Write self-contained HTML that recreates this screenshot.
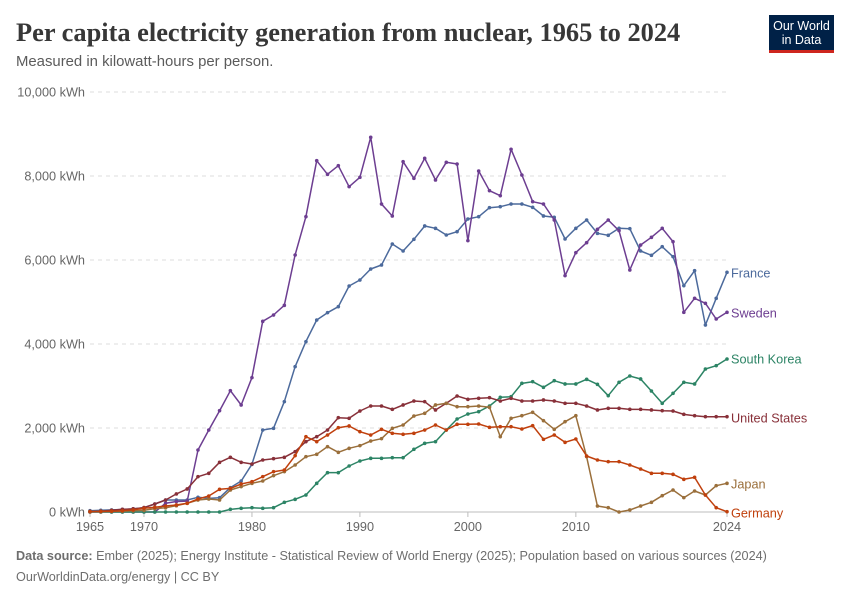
<!DOCTYPE html>
<html><head><meta charset="utf-8">
<style>
body{margin:0;background:#fff;font-family:"Liberation Sans",sans-serif;}
#wrap{position:relative;width:850px;height:600px;overflow:hidden;}
svg text{font-family:"Liberation Sans",sans-serif;}
</style></head>
<body>
<div id="wrap">
<svg id="chart" width="850" height="600" viewBox="0 0 850 600">
<text x="16" y="41" font-size="26.4" font-weight="bold" fill="#373737" style="font-family:'Liberation Serif',serif">Per capita electricity generation from nuclear, 1965 to 2024</text>
<text x="16" y="66" font-size="14.9" fill="#5b5b5b">Measured in kilowatt-hours per person.</text>
<g>
<rect x="769" y="15" width="65" height="35" fill="#002147"/>
<rect x="769" y="50" width="65" height="3" fill="#ce261e"/>
<text x="801.5" y="30" font-size="12.5" fill="#fff" text-anchor="middle">Our World</text>
<text x="801.5" y="44" font-size="12.5" fill="#fff" text-anchor="middle">in Data</text>
</g>
<g id="grid"></g>
<g id="xaxis"></g>
<g id="series"></g>
<g id="labels"></g>
<text x="16" y="560" font-size="12.65" fill="#6e6e6e"><tspan font-weight="bold">Data source:</tspan> Ember (2025); Energy Institute - Statistical Review of World Energy (2025); Population based on various sources (2024)</text>
<text x="16" y="581" font-size="12.65" fill="#6e6e6e">OurWorldinData.org/energy | CC BY</text>
</svg>
</div>
<script>
const years = [];
for (let y = 1965; y <= 2024; y++) years.push(y);
const yTicks = [0, 2000, 4000, 6000, 8000, 10000];
const yTickLabels = ["0 kWh","2,000 kWh","4,000 kWh","6,000 kWh","8,000 kWh","10,000 kWh"];
const xTicks = [1965, 1970, 1980, 1990, 2000, 2010, 2024];
const seriesNames = ["France","Sweden","South Korea","United States","Japan","Germany"];
const seriesColors = ["#4c6a9c","#6d3e91","#2c8465","#883039","#9a6f3b","#c0400d"];
const franceVals = [32,40,50,60,75,103,190,286,286,286,349,325,340,580,738,1135,1952,1992,2627,3460,4056,4571,4746,4889,5381,5524,5786,5881,6381,6214,6492,6810,6754,6595,6675,6976,7032,7246,7270,7333,7333,7254,7048,7016,6500,6754,6952,6635,6587,6754,6746,6214,6111,6317,6079,5389,5746,4452,5087,5706];
const swedenVals = [0,0,0,0,0,0,0,210,250,260,1476,1952,2413,2889,2548,3198,4540,4690,4921,6119,7032,8365,8040,8246,7746,7968,8921,7333,7048,8341,7944,8421,7905,8325,8286,6460,8119,7651,7532,8635,8024,7389,7333,6952,5627,6175,6413,6730,6952,6698,5762,6357,6540,6754,6437,4754,5087,4968,4595,4754];
const koreaVals = [0,0,0,0,0,0,0,0,0,0,0,0,0,63,87,103,87,103,230,302,405,683,937,937,1095,1214,1278,1278,1294,1294,1492,1635,1675,1952,2214,2333,2389,2524,2730,2746,3063,3103,2968,3127,3048,3048,3159,3040,2770,3087,3238,3167,2881,2587,2825,3087,3048,3405,3484,3643];
const usVals = [10,20,40,65,75,105,190,286,430,548,841,921,1183,1302,1183,1143,1238,1270,1302,1437,1675,1794,1952,2246,2230,2405,2524,2524,2444,2548,2643,2627,2429,2587,2762,2683,2706,2722,2643,2706,2643,2643,2667,2643,2587,2587,2524,2429,2468,2468,2444,2444,2429,2413,2405,2325,2294,2270,2270,2270];
const japanVals = [5,10,15,20,30,40,80,100,150,206,286,310,286,524,603,683,738,865,960,1119,1317,1373,1556,1421,1516,1579,1690,1746,1992,2071,2286,2349,2548,2587,2508,2508,2524,2492,1794,2230,2294,2373,2175,1968,2151,2294,1317,143,103,0,48,143,230,389,524,341,500,405,627,683];
const germanyVals = [10,15,20,30,50,87,111,143,167,206,310,381,540,563,667,722,841,960,1000,1341,1794,1675,1833,2008,2048,1913,1833,1968,1873,1849,1873,1952,2071,1952,2087,2087,2095,2016,2032,2032,1976,2056,1730,1833,1659,1738,1333,1238,1198,1198,1119,1024,921,921,897,778,825,405,103,8];
const allVals = [franceVals, swedenVals, koreaVals, usVals, japanVals, germanyVals];
const labelY = [273, 313, 359, 418, 484, 513];

const X0 = 90, X1 = 727, Y0 = 512, Y1 = 92;
function xScale(yr){ return X0 + (yr - 1965) / (2024 - 1965) * (X1 - X0); }
function yScale(v){ return Y0 - v / 10000 * (Y0 - Y1); }
const NS = "http://www.w3.org/2000/svg";
function mk(tag, attrs, parent){ const e = document.createElementNS(NS, tag); for (const k in attrs) e.setAttribute(k, attrs[k]); parent.appendChild(e); return e; }

const grid = document.getElementById('grid');
yTicks.forEach((t, i) => {
  const y = yScale(t);
  if (t === 0) {
    const l = mk('line', {x1: X0, x2: X1, y1: y, y2: y, stroke: '#bdbdbd', 'stroke-width': 1}, grid);
    
    
  } else {
    const l = mk('line', {x1: X0, x2: X1, y1: y, y2: y, stroke: '#dddddd', 'stroke-width': 1, 'stroke-dasharray': '4,4'}, grid);
    
    
  }
  const tx = mk('text', {x: 85, y: y + 4.5, 'text-anchor': 'end', 'font-size': 12.7, fill: '#666'}, grid);
  tx.textContent = yTickLabels[i];
  
  
});
const xa = document.getElementById('xaxis');
xTicks.forEach(t => {
  const x = xScale(t);
  const tk = mk('line', {x1: x, x2: x, y1: Y0, y2: Y0 + 5, stroke: '#bdbdbd'}, xa);
  
  
  const tx = mk('text', {x: x, y: Y0 + 19, 'text-anchor': 'middle', 'font-size': 12.7, fill: '#666'}, xa);
  tx.textContent = t;
  
  
});
const sg = document.getElementById('series');
const lg = document.getElementById('labels');
allVals.forEach((vals, si) => {
  const g = mk('g', {}, sg);
  
  
  const pts = vals.map((v, i) => xScale(years[i]).toFixed(1) + ',' + yScale(v).toFixed(1)).join(' ');
  const pl = mk('polyline', {points: pts, fill: 'none', stroke: seriesColors[si], 'stroke-width': 1.5, 'stroke-linejoin': 'round'}, g);
  
  
  vals.forEach((v, i) => {
    const c = mk('circle', {cx: xScale(years[i]), cy: yScale(v), r: 1.8, fill: seriesColors[si]}, g);
    
    
  });
  const tx = mk('text', {x: 731, y: labelY[si] + 4.5, 'font-size': 12.7, fill: seriesColors[si]}, lg);
  tx.textContent = seriesNames[si];
  
  
});
</script>
</body></html>
